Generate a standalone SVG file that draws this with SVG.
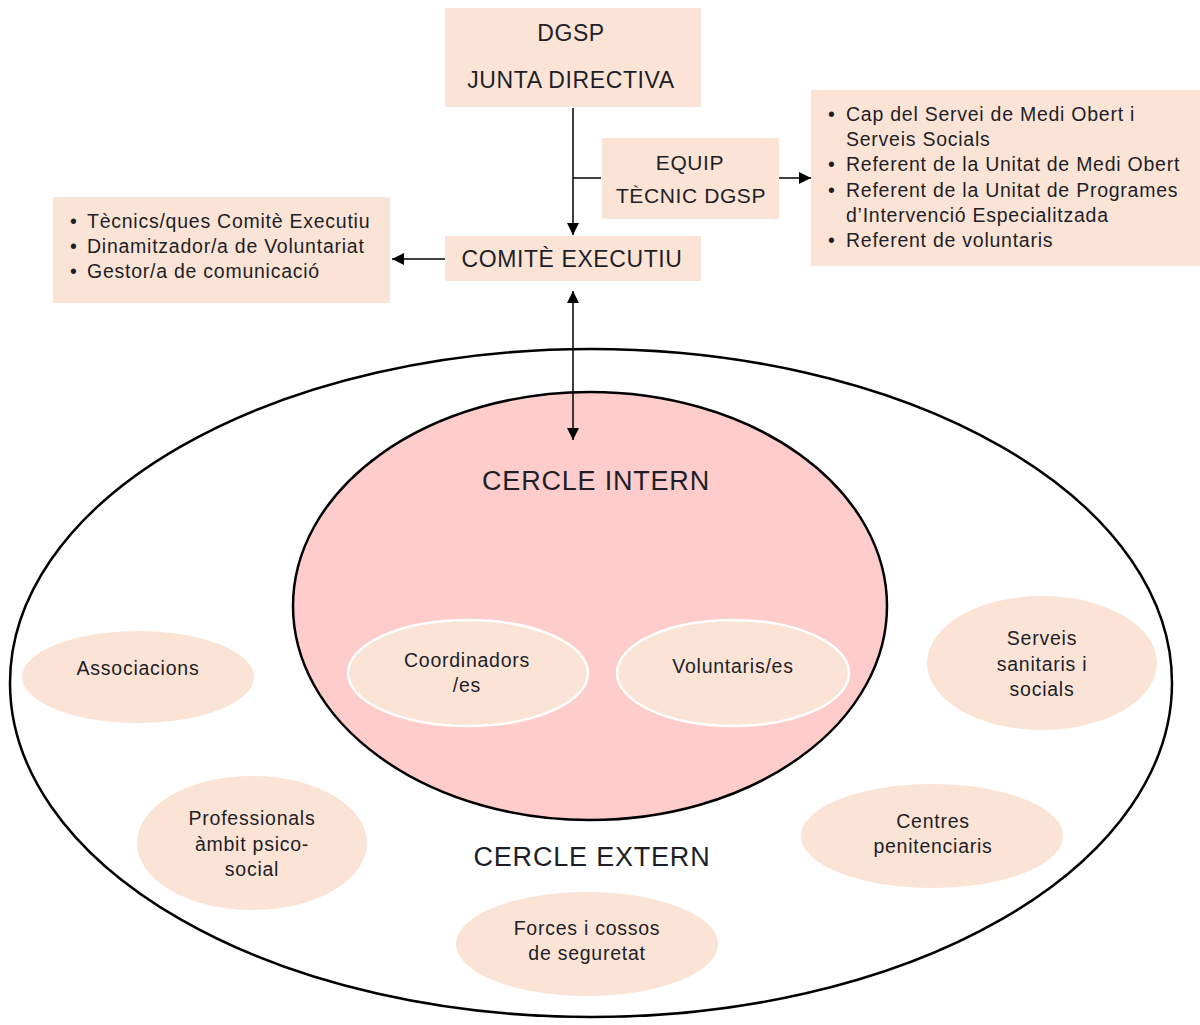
<svg xmlns="http://www.w3.org/2000/svg" width="1200" height="1025" viewBox="0 0 1200 1025">
<style>
.box{fill:#FBE4D5;}
.t{font-family:"Liberation Sans",Arial,sans-serif;fill:#1e1e28;}
.c{text-anchor:middle;}
.big{font-size:23px;letter-spacing:0.6px;}
.mid{font-size:21px;letter-spacing:0.6px;}
.sm{font-size:19.5px;letter-spacing:0.75px;}
.hd{font-size:27px;letter-spacing:0.8px;}
.ln{stroke:#000;stroke-width:1.5;fill:none;}
.pe{fill:#FBE4D5;}
</style>
<defs>
<marker id="ah2" viewBox="0 0 10 10" refX="10" refY="5" markerWidth="12" markerHeight="12" markerUnits="userSpaceOnUse" orient="auto-start-reverse">
<path d="M0,0 L10,5 L0,10 z" fill="#000"/>
</marker>
</defs>
<rect width="1200" height="1025" fill="#fff"/>

<g id="outer">
<ellipse cx="591" cy="683" rx="581" ry="334" fill="#fff" stroke="#000" stroke-width="2.5"/>
<text class="t c hd" x="592" y="866">CERCLE EXTERN</text>
</g>
<g id="inner">
<ellipse cx="590" cy="606" rx="297" ry="214" fill="#FFCCCC" stroke="#000" stroke-width="2.5"/>
<text class="t c hd" x="596" y="490">CERCLE INTERN</text>
</g>
<g id="coordinadors">
<ellipse cx="468" cy="673" rx="120" ry="53" class="pe" stroke="#fff" stroke-width="2.5"/>
<text class="t c sm" x="467" y="667">Coordinadors</text>
<text class="t c sm" x="467" y="692">/es</text>
</g>
<g id="voluntaris">
<ellipse cx="733" cy="673" rx="116" ry="53" class="pe" stroke="#fff" stroke-width="2.5"/>
<text class="t c sm" x="733" y="673">Voluntaris/es</text>
</g>
<g id="associacions">
<ellipse cx="138" cy="677" rx="116" ry="46" class="pe"/>
<text class="t c sm" x="138" y="675">Associacions</text>
</g>
<g id="professionals">
<ellipse cx="252" cy="843" rx="115" ry="67" class="pe"/>
<text class="t c sm" x="252" y="825">Professionals</text>
<text class="t c sm" x="252" y="851">àmbit psico-</text>
<text class="t c sm" x="252" y="876">social</text>
</g>
<g id="serveis">
<ellipse cx="1042" cy="663" rx="115" ry="67" class="pe"/>
<text class="t c sm" x="1042" y="645">Serveis</text>
<text class="t c sm" x="1042" y="671">sanitaris  i</text>
<text class="t c sm" x="1042" y="696">socials</text>
</g>
<g id="centres">
<ellipse cx="932" cy="836" rx="131" ry="52" class="pe"/>
<text class="t c sm" x="933" y="828">Centres</text>
<text class="t c sm" x="933" y="853">penitenciaris</text>
</g>
<g id="forces">
<ellipse cx="587" cy="944" rx="131" ry="52" class="pe"/>
<text class="t c sm" x="587" y="935">Forces i cossos</text>
<text class="t c sm" x="587" y="960">de seguretat</text>
</g>

<g id="dgsp">
<rect class="box" x="445" y="8" width="256" height="99"/>
<text class="t c big" x="571" y="41">DGSP</text>
<text class="t c big" x="571" y="88">JUNTA DIRECTIVA</text>
</g>
<g id="equip">
<rect class="box" x="602" y="138" width="177" height="81"/>
<text class="t c mid" x="690" y="170">EQUIP</text>
<text class="t c mid" x="691" y="203">TÈCNIC DGSP</text>
</g>
<g id="comite">
<rect class="box" x="445" y="236" width="256" height="45"/>
<text class="t c big" x="572" y="267">COMITÈ EXECUTIU</text>
</g>
<g id="left-list">
<rect class="box" x="53" y="197" width="337" height="106"/>
<g class="t sm">
<text x="70" y="228">•</text><text x="87" y="228">Tècnics/ques Comitè Executiu</text>
<text x="70" y="253">•</text><text x="87" y="253">Dinamitzador/a  de Voluntariat</text>
<text x="70" y="278">•</text><text x="87" y="278">Gestor/a de comunicació</text>
</g>
</g>
<g id="right-list">
<rect class="box" x="811" y="90" width="389" height="176"/>
<g class="t sm">
<text x="828" y="121">•</text><text x="846" y="121">Cap del Servei de Medi Obert i</text>
<text x="846" y="146">Serveis Socials</text>
<text x="828" y="171">•</text><text x="846" y="171">Referent de la Unitat de Medi Obert</text>
<text x="828" y="197">•</text><text x="846" y="197">Referent de la Unitat de Programes</text>
<text x="846" y="222">d’Intervenció Especialitzada</text>
<text x="828" y="247">•</text><text x="846" y="247">Referent de voluntaris</text>
</g>
</g>

<g id="connectors">
<line class="ln" x1="573" y1="108" x2="573" y2="235" marker-end="url(#ah2)"/>
<line class="ln" x1="573" y1="178" x2="601" y2="178"/>
<line class="ln" x1="779" y1="178" x2="811" y2="178" marker-end="url(#ah2)"/>
<line class="ln" x1="445" y1="259" x2="392" y2="259" marker-end="url(#ah2)"/>
<line class="ln" x1="573" y1="291" x2="573" y2="440" marker-start="url(#ah2)" marker-end="url(#ah2)"/>
</g>
</svg>
